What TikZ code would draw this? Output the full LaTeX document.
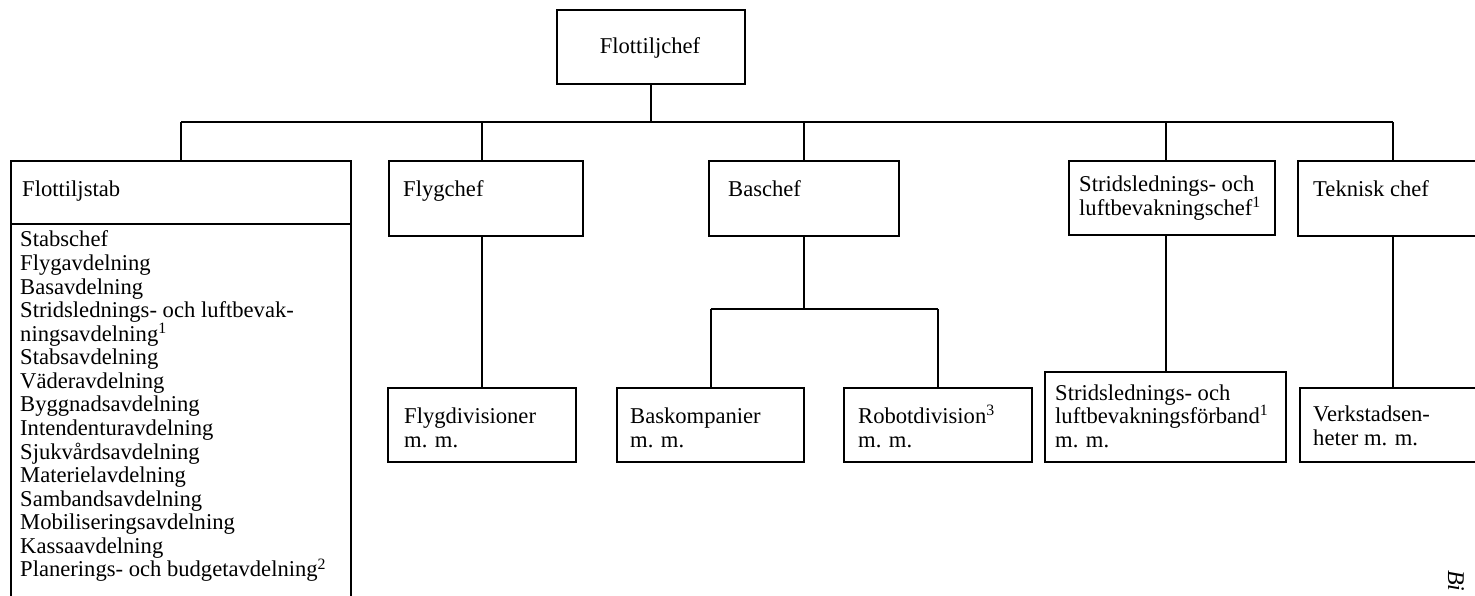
\documentclass[tikz,border=0pt]{standalone}
\usepackage{fontspec}
\setmainfont{Liberation Serif}
\begin{document}
\begin{tikzpicture}[x=1pt,y=-1pt,
  box/.style={draw, line width=2.4pt, rectangle, inner sep=0pt, anchor=north west},
  txt/.style={anchor=base west, inner sep=0pt, font=\fontsize{22.6}{23.5}\selectfont},
  conn/.style={line width=2.4pt}]
\useasboundingbox (0,0) rectangle (1475,596);
\clip (0,0) rectangle (1475,596);
% coordinates for the buses
\coordinate (bus) at (0,122);
\coordinate (sub) at (0,309);
% boxes
\node[box, minimum width=188, minimum height=74] (chief) at (556,9) {};
\node[box, minimum width=340, minimum height=63] (stabh) at (10,160) {};
\node[box, minimum width=340, minimum height=400] (stabl) at (10,223) {};
\node[box, minimum width=194, minimum height=75] (flyg) at (388,160) {};
\node[box, minimum width=190, minimum height=75] (bas) at (708,160) {};
\node[box, minimum width=206, minimum height=74] (strids) at (1068,160) {};
\node[box, minimum width=186, minimum height=75] (tek) at (1297,160) {};
\node[box, minimum width=188, minimum height=74] (flygdiv) at (387,387) {};
\node[box, minimum width=187, minimum height=74] (baskomp) at (616,387) {};
\node[box, minimum width=188, minimum height=74] (robot) at (843,387) {};
\node[box, minimum width=241, minimum height=90] (forband) at (1044,371) {};
\node[box, minimum width=186, minimum height=74] (verk) at (1299,387) {};
% connectors
\draw[conn] (chief.south) -- (chief.south |- bus);
\draw[conn] (stabh.north |- bus) -- (verk.north |- bus);
\draw[conn] (stabh.north |- bus) -- (stabh.north);
\draw[conn] (flygdiv.north |- bus) -- (flygdiv.north |- flyg.north);
\draw[conn] (bas.north |- bus) -- (bas.north);
\draw[conn] (forband.north |- bus) -- (forband.north |- strids.north);
\draw[conn] (verk.north |- bus) -- (verk.north |- tek.north);
\draw[conn] (flygdiv.north |- flyg.south) -- (flygdiv.north);
\draw[conn] (bas.south) -- (bas.south |- sub);
\draw[conn] (baskomp.north |- sub) -- (robot.north |- sub);
\draw[conn] (baskomp.north |- sub) -- (baskomp.north);
\draw[conn] (robot.north |- sub) -- (robot.north);
\draw[conn] (forband.north |- strids.south) -- (forband.north);
\draw[conn] (verk.north |- tek.south) -- (verk.north);
% texts
\node[txt, anchor=base] (chiefT) at (650,54) {Flottiljchef};
\node[txt] (stabhT) at (22,197) {Flottiljstab};
\node[txt] (flygT) at (403,197) {Flygchef};
\node[txt] (basT) at (728,197) {Baschef};
\node[txt] (tekT) at (1313,197) {Teknisk chef};
\node[txt] (stridsT1) at (1079,192) {Stridslednings- och};
\node[txt] (stridsT2) at (1079,215) {luftbevakningschef\textsuperscript{1}};
\node[txt] (flygdivT1) at (404,423) {Flygdivisioner};
\node[txt] (flygdivT2) at (404,447) {m. m.};
\node[txt] (baskompT1) at (630,423) {Baskompanier};
\node[txt] (baskompT2) at (630,447) {m. m.};
\node[txt] (robotT1) at (858,423) {Robotdivision\textsuperscript{3}};
\node[txt] (robotT2) at (858,447) {m. m.};
\node[txt] (forbandT1) at (1055,400) {Stridslednings- och};
\node[txt] (forbandT2) at (1055,423) {luftbevakningsförband\textsuperscript{1}};
\node[txt] (forbandT3) at (1055,447) {m. m.};
\node[txt] (verkT1) at (1313,421) {Verkstadsen-};
\node[txt] (verkT2) at (1313,445) {heter m. m.};
\foreach \t [count=\i from 0] in {Stabschef, Flygavdelning, Basavdelning,
  {Stridslednings- och luftbevak-}, {ningsavdelning\textsuperscript{1}},
  Stabsavdelning, Väderavdelning, Byggnadsavdelning, Intendenturavdelning,
  Sjukvårdsavdelning, Materielavdelning, Sambandsavdelning,
  Mobiliseringsavdelning, Kassaavdelning,
  {Planerings- och budgetavdelning\textsuperscript{2}}}
  \node[txt] (stabl\i) at (20,247+23.57*\i) {\t};
\node[txt, rotate=-90, font=\fontsize{24}{25}\selectfont\itshape] (bi) at (1448,570) {Bi};
\end{tikzpicture}
\end{document}
